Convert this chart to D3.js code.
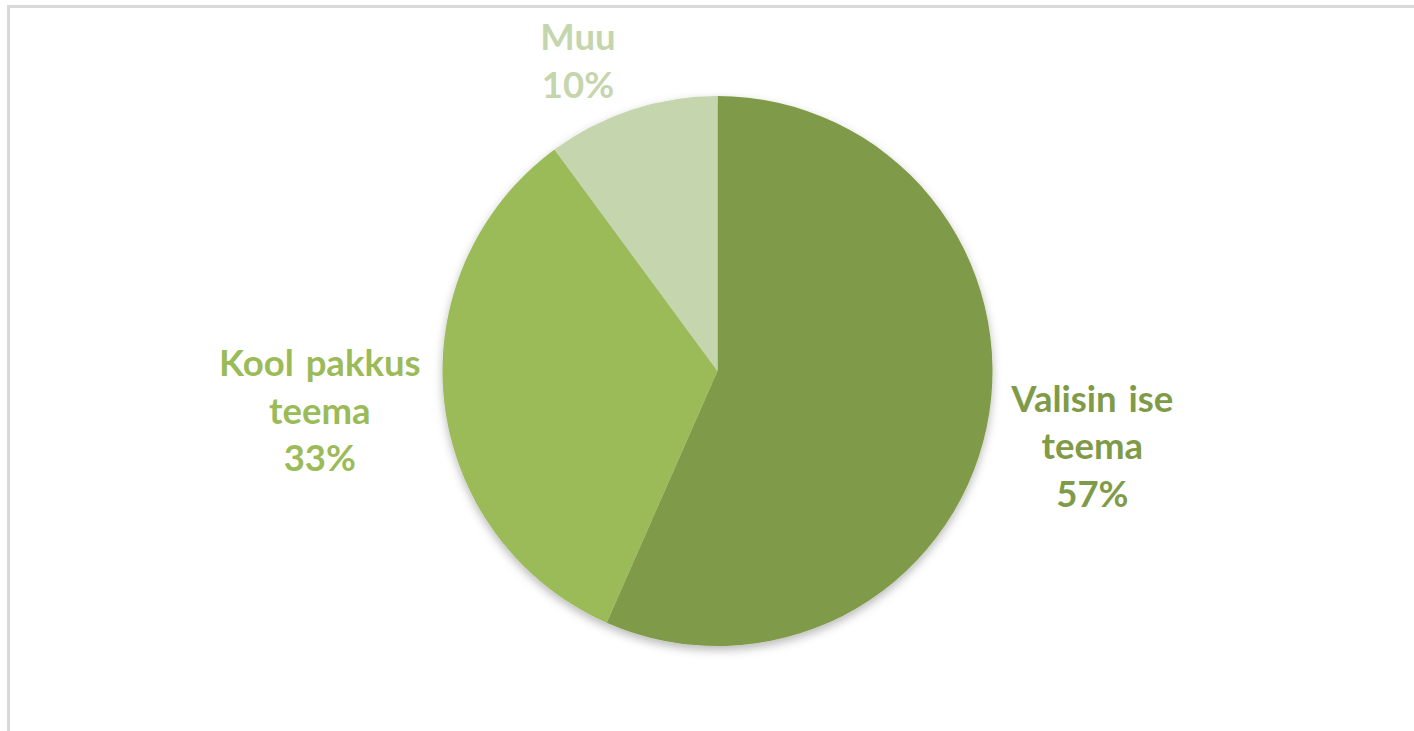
<!DOCTYPE html>
<html>
<head>
<meta charset="utf-8">
<script src="https://cdn.jsdelivr.net/npm/d3@7"></script>
<style>
  html, body { margin: 0; padding: 0; background: #fff; }
  svg { display: block; }
</style>
</head>
<body>
<svg id="chart" width="1414" height="731"></svg>
<script>
// ---- data ----
const categories = ["Valisin ise teema", "Kool pakkus teema", "Muu"];
const labelLines = [["Valisin ise", "teema"], ["Kool pakkus", "teema"], ["Muu"]];
const values = [56.6, 33.3, 10.1];
const colors = ["#7F9B48", "#9BBB59", "#C5D5AD"];

// ---- layout ----
const W = 1414, H = 731;
const cx = 717.5, cy = 371, r = 275;
const labelR = 380;
const nudges = [[3, -2], [-20, -1], [-21, 52]];
const fontSize = 36.5, lineH = 47.5;

const svg = d3.select("#chart");

// frame (top and left border lines)
svg.append("line").attr("x1", 8.5).attr("x2", W).attr("y1", 6.5).attr("y2", 6.5)
  .attr("stroke", "#d9d9d9").attr("stroke-width", 3);
svg.append("line").attr("x1", 8.5).attr("x2", 8.5).attr("y1", 5).attr("y2", H)
  .attr("stroke", "#d9d9d9").attr("stroke-width", 3);

const defs = svg.append("defs");
const f = defs.append("filter").attr("id", "shadow")
  .attr("x", "-20%").attr("y", "-20%").attr("width", "140%").attr("height", "140%");
f.append("feDropShadow").attr("dx", 0).attr("dy", 4).attr("stdDeviation", 5)
  .attr("flood-color", "#000").attr("flood-opacity", 0.28);

const pie = d3.pie().sort(null).value(d => d);
const arcs = pie(values);
const arc = d3.arc().innerRadius(0).outerRadius(r);
const labelArc = d3.arc().innerRadius(labelR).outerRadius(labelR);

const g = svg.append("g").attr("transform", `translate(${cx},${cy})`);
g.append("g").attr("filter", "url(#shadow)")
  .selectAll("path").data(arcs).join("path")
  .attr("d", arc)
  .attr("fill", (d, i) => colors[i]);

const total = d3.sum(values);
const lg = g.append("g")
  .attr("font-family", "Lato, 'Open Sans', sans-serif")
  .attr("font-weight", "bold")
  .attr("font-size", fontSize)
  .attr("word-spacing", 3)
  .attr("text-anchor", "middle");

arcs.forEach((a, i) => {
  const [x0, y0] = labelArc.centroid(a);
  const x = x0 + nudges[i][0], y = y0 + nudges[i][1];
  const lines = labelLines[i].concat([Math.round(values[i] / total * 100) + "%"]);
  const n = lines.length;
  const t = lg.append("text").attr("fill", colors[i]);
  lines.forEach((ln, j) => {
    t.append("tspan")
      .attr("x", x)
      .attr("y", y + (j - (n - 1) / 2) * lineH + 12)
      .text(ln);
  });
});
</script>
</body>
</html>
